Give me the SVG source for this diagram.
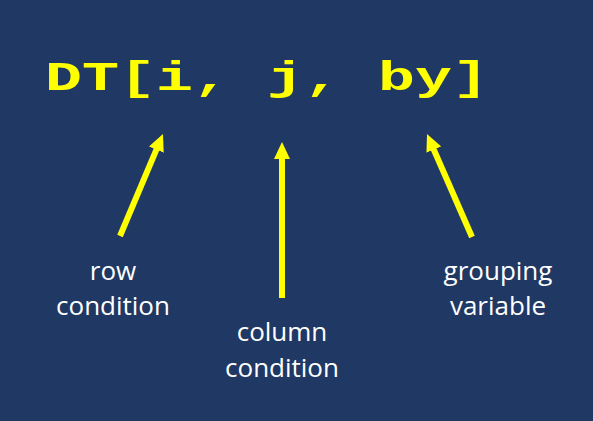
<svg xmlns="http://www.w3.org/2000/svg" width="593" height="421" viewBox="0 0 593 421">
  <style>
    .title { font-family: "Liberation Mono", "Courier New", monospace; font-weight: bold; font-size: 40px; fill: #FFFF00; }
    .label { font-family: "Open Sans", "Liberation Sans", sans-serif; font-size: 26px; fill: #FFFFFF; text-anchor: middle; }
    .arrow { stroke: #FFFF00; stroke-width: 6; fill: none; marker-end: url(#head); }
  </style>
  <defs>
    <marker id="head" markerUnits="userSpaceOnUse" markerWidth="17" markerHeight="16" refX="5" refY="8" orient="auto" viewBox="0 0 17 16">
      <path d="M0,0 L17,8 L0,16 z" fill="#FFFF00"/>
    </marker>
  </defs>
  <rect x="0" y="0" width="593" height="421" fill="#203864"/>
  <g id="title-node">
    <text class="title" x="45" y="90" textLength="444" lengthAdjust="spacingAndGlyphs">DT[i, j, by]</text>
  </g>
  <g id="row-condition">
    <text class="label" x="113" y="280">row</text>
    <text class="label" x="113" y="315">condition</text>
  </g>
  <g id="column-condition">
    <text class="label" x="282" y="341">column</text>
    <text class="label" x="282" y="377">condition</text>
  </g>
  <g id="grouping-variable">
    <text class="label" x="498" y="280">grouping</text>
    <text class="label" x="498" y="315">variable</text>
  </g>
  <g id="connectors">
    <line class="arrow" x1="120" y1="236" x2="158.3" y2="145.1"/>
    <line class="arrow" x1="282" y1="298" x2="282" y2="154"/>
    <line class="arrow" x1="472" y1="237" x2="431.8" y2="145"/>
  </g>
</svg>
